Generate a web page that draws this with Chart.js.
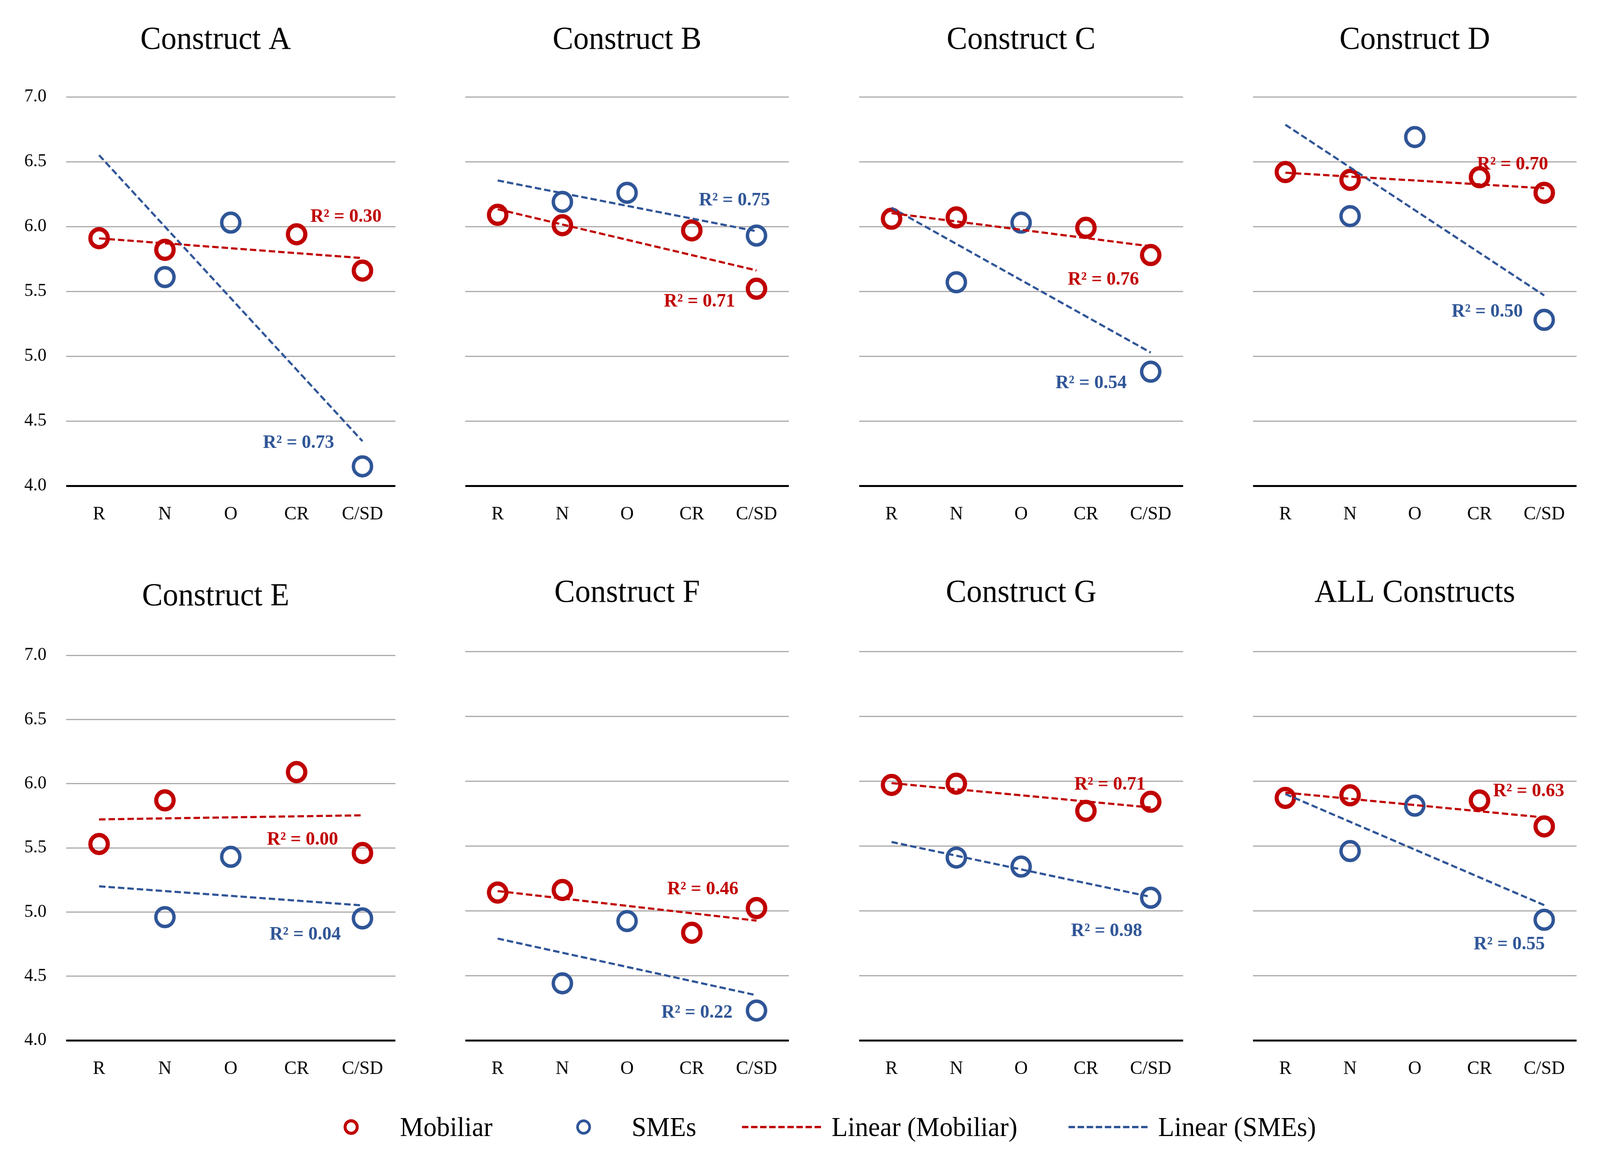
<!DOCTYPE html>
<html>
<head>
<meta charset="utf-8">
<title>Constructs – Mobiliar vs SMEs</title>
<script src="https://cdn.jsdelivr.net/npm/chart.js@4.4.1/dist/chart.umd.min.js"></script>
<style>
    html, body { margin: 0; padding: 0; background: #fff; overflow: hidden; }
    #page { position: relative; width: 4233px; height: 2955px; background: #fff; overflow: hidden; transform-origin: 0 0; }
    #page canvas { position: absolute; }
    #legend { position: absolute; left: 0; top: 2800px; }
</style>
</head>
<body>
<div id="page"></div>
<script>
// Categories and tick labels
const categories = ['R', 'N', 'O', 'CR', 'C/SD'];
const yTickLabels = ['4.0', '4.5', '5.0', '5.5', '6.0', '6.5', '7.0'];
const panelTitles = ['Construct A', 'Construct B', 'Construct C', 'Construct D',
                     'Construct E', 'Construct F', 'Construct G', 'ALL Constructs'];

// Mean scores (null = no marker in the original)
const mobiliarA = [5.91, 5.82, null, 5.94, 5.66];
const mobiliarB = [6.09, 6.01, null, 5.97, 5.52];
const mobiliarC = [6.06, 6.07, null, 5.99, 5.78];
const mobiliarD = [6.42, 6.36, null, 6.38, 6.26];
const mobiliarE = [5.53, 5.87, null, 6.09, 5.46];
const mobiliarF = [5.14, 5.16, null, 4.83, 5.02];
const mobiliarG = [5.97, 5.98, null, 5.77, 5.84];
const mobiliarAll = [5.87, 5.89, null, 5.85, 5.65];

const smesA = [null, 5.61, 6.03, null, 4.15];
const smesB = [null, 6.19, 6.26, null, 5.93];
const smesC = [null, 5.57, 6.03, null, 4.88];
const smesD = [null, 6.08, 6.69, null, 5.28];
const smesE = [null, 4.96, 5.43, null, 4.95];
const smesF = [null, 4.44, 4.92, null, 4.23];
const smesG = [null, 5.41, 5.34, null, 5.10];
const smesAll = [null, 5.46, 5.81, null, 4.93];

const mobiliarSeries = [mobiliarA, mobiliarB, mobiliarC, mobiliarD, mobiliarE, mobiliarF, mobiliarG, mobiliarAll];
const smesSeries = [smesA, smesB, smesC, smesD, smesE, smesF, smesG, smesAll];

const r2Mobiliar = ['R² = 0.30', 'R² = 0.71', 'R² = 0.76', 'R² = 0.70', 'R² = 0.00', 'R² = 0.46', 'R² = 0.71', 'R² = 0.63'];
const r2Smes = ['R² = 0.73', 'R² = 0.75', 'R² = 0.54', 'R² = 0.50', 'R² = 0.04', 'R² = 0.22', 'R² = 0.98', 'R² = 0.55'];

// Where the R² labels sit (category index, value) - layout only
const r2MobiliarAt = [[3.75, 6.075], [3.12, 5.42], [3.27, 5.59], [3.51, 6.477], [3.09, 5.562], [3.17, 5.166], [3.37, 5.973], [3.76, 5.92]];
const r2SmesAt = [[3.03, 4.33], [3.66, 6.20], [3.08, 4.79], [3.12, 5.343], [3.13, 4.825], [3.08, 4.213], [3.32, 4.842], [3.46, 4.741]];

// Styling / layout
const RED = '#C00000';
const BLUE = '#2F5597';
const GRID = '#AEAAAA';
const SERIF = '"Liberation Serif", "Times New Roman", serif';

const colLeft = [0, 1080, 2133, 3172];
const colRight = [1080, 2133, 3172, 4233];
const plotLeft = [175, 1231, 2273, 3315];
const plotRight = [1048, 2087, 3130, 4171];
const rowTop = [0, 1400];
const rowBottom = [1400, 2800];
const plotTop = [[248, 248, 248, 248], [1678, 1668, 1668, 1668]];
const plotBottom = [1244, 2664];
const titleBase = [[125, 125, 125, 125], [1550, 1541, 1541, 1541]];
const titleShift = [-40, 0, 0, 0];

// Least-squares trendline over the non-empty points, evaluated at every category
function linearFit(values) {
    const pts = values.map((v, i) => [i + 1, v]).filter(p => p[1] !== null);
    const n = pts.length;
    const mx = pts.reduce((s, p) => s + p[0], 0) / n;
    const my = pts.reduce((s, p) => s + p[1], 0) / n;
    let sxy = 0, sxx = 0;
    pts.forEach(([x, y]) => { sxy += (x - mx) * (y - my); sxx += (x - mx) * (x - mx); });
    const slope = sxy / sxx;
    return values.map((_, i) => my + slope * (i + 1 - mx));
}

const page = document.getElementById('page');

// stretch the 4233x2955 layout onto whatever viewport we actually get
const fitX = Math.min(window.innerWidth / 4233, 1);
const fitY = Math.min(window.innerHeight / 2955, 1);
page.style.transform = `scale(${fitX}, ${fitY})`;

function makePanel(i) {
    const r = Math.floor(i / 4);
    const c = i % 4;
    const cw = colRight[c] - colLeft[c];
    const ch = rowBottom[r] - rowTop[r];

    const canvas = document.createElement('canvas');
    canvas.width = cw;
    canvas.height = ch;
    canvas.style.left = colLeft[c] + 'px';
    canvas.style.top = rowTop[r] + 'px';
    canvas.style.width = cw + 'px';
    canvas.style.height = ch + 'px';
    page.appendChild(canvas);

    // title + R² labels
    const panelText = {
        id: 'panelText' + i,
        afterDatasetsDraw(chart) {
            const { ctx, chartArea, scales } = chart;
            ctx.save();
            ctx.fillStyle = '#000';
            ctx.font = `82px ${SERIF}`;
            ctx.textAlign = 'center';
            ctx.textBaseline = 'alphabetic';
            const cx = (chartArea.left + chartArea.right) / 2 + titleShift[c];
            ctx.fillText(panelTitles[i], cx, titleBase[r][c] - rowTop[r]);

            ctx.font = `bold 49px ${SERIF}`;
            ctx.textBaseline = 'middle';
            ctx.fillStyle = RED;
            ctx.fillText(r2Mobiliar[i], scales.x.getPixelForValue(r2MobiliarAt[i][0]), scales.y.getPixelForValue(r2MobiliarAt[i][1]));
            ctx.fillStyle = BLUE;
            ctx.fillText(r2Smes[i], scales.x.getPixelForValue(r2SmesAt[i][0]), scales.y.getPixelForValue(r2SmesAt[i][1]));
            ctx.restore();
        }
    };

    new Chart(canvas, {
        type: 'line',
        data: {
            labels: categories,
            datasets: [
                {
                    label: 'Linear (Mobiliar)',
                    data: linearFit(mobiliarSeries[i]),
                    borderColor: RED,
                    borderWidth: 5.5,
                    borderDash: [17, 8],
                    pointRadius: 0,
                    fill: false,
                    order: 0
                },
                {
                    label: 'Linear (SMEs)',
                    data: linearFit(smesSeries[i]),
                    borderColor: BLUE,
                    borderWidth: 5.5,
                    borderDash: [17, 8],
                    pointRadius: 0,
                    fill: false,
                    order: 0
                },
                {
                    label: 'Mobiliar',
                    data: mobiliarSeries[i],
                    showLine: false,
                    pointRadius: 23,
                    pointBorderWidth: 11,
                    pointBorderColor: RED,
                    pointBackgroundColor: 'rgba(0,0,0,0)',
                    order: 1
                },
                {
                    label: 'SMEs',
                    data: smesSeries[i],
                    showLine: false,
                    pointRadius: 24,
                    pointBorderWidth: 9,
                    pointBorderColor: BLUE,
                    pointBackgroundColor: 'rgba(0,0,0,0)',
                    order: 2
                }
            ]
        },
        options: {
            responsive: false,
            animation: false,
            devicePixelRatio: 1,
            events: [],
            layout: {
                padding: {
                    left: 0,
                    right: colRight[c] - plotRight[c],
                    top: plotTop[r][c] - rowTop[r],
                    bottom: 0
                }
            },
            plugins: {
                legend: { display: false },
                tooltip: { enabled: false },
                title: { display: false }
            },
            scales: {
                x: {
                    offset: true,
                    grid: { display: false, drawTicks: false },
                    border: { display: false },
                    ticks: {
                        color: '#000',
                        font: { family: SERIF, size: 49 },
                        padding: 44,
                        maxRotation: 0,
                        autoSkip: false
                    },
                    afterFit: scale => { scale.height = rowBottom[r] - plotBottom[r]; }
                },
                y: {
                    min: 4,
                    max: 7,
                    grid: {
                        drawTicks: false,
                        color: ctx => (ctx.tick && ctx.tick.value === 4) ? '#000' : GRID,
                        lineWidth: ctx => (ctx.tick && ctx.tick.value === 4) ? 5 : 3
                    },
                    border: { display: false },
                    ticks: {
                        display: c === 0,
                        color: '#000',
                        font: { family: SERIF, size: 47 },
                        padding: 52,
                        callback: value => Number(value).toFixed(1)
                    },
                    afterBuildTicks: scale => {
                        scale.ticks = yTickLabels.map(t => ({ value: parseFloat(t) }));
                    },
                    afterFit: scale => { scale.width = plotLeft[c] - colLeft[c]; }
                }
            }
        },
        plugins: [panelText]
    });
}

for (let i = 0; i < 8; i++) makePanel(i);

// Shared legend along the bottom
(function drawLegend() {
    const NS = 'http://www.w3.org/2000/svg';
    const svg = document.createElementNS(NS, 'svg');
    svg.setAttribute('id', 'legend');
    svg.setAttribute('width', '4233');
    svg.setAttribute('height', '155');
    const cy = 86;

    function el(tag, attrs) {
        const e = document.createElementNS(NS, tag);
        Object.keys(attrs).forEach(k => e.setAttribute(k, attrs[k]));
        svg.appendChild(e);
        return e;
    }
    function label(x, text) {
        const t = el('text', { x: x, y: cy, 'dominant-baseline': 'central', 'font-size': 70, fill: '#000' });
        t.setAttribute('font-family', 'Liberation Serif, Times New Roman, serif');
        t.textContent = text;
    }

    el('circle', { cx: 929, cy: cy, r: 16, fill: 'none', stroke: RED, 'stroke-width': 8 });
    label(1058, 'Mobiliar');
    el('circle', { cx: 1544, cy: cy, r: 16, fill: 'none', stroke: BLUE, 'stroke-width': 7 });
    label(1671, 'SMEs');
    el('line', { x1: 1963, y1: cy, x2: 2176, y2: cy, stroke: RED, 'stroke-width': 6, 'stroke-dasharray': '17 7' });
    label(2200, 'Linear (Mobiliar)');
    el('line', { x1: 2827, y1: cy, x2: 3043, y2: cy, stroke: BLUE, 'stroke-width': 6, 'stroke-dasharray': '17 7' });
    label(3064, 'Linear (SMEs)');

    page.appendChild(svg);
})();
</script>
</body>
</html>
